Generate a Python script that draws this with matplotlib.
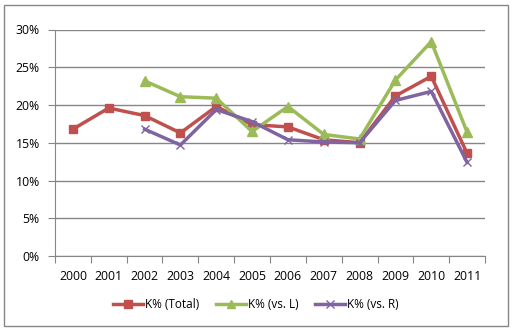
import numpy as np
import matplotlib.pyplot as plt
from matplotlib.patches import Rectangle
from matplotlib.ticker import FuncFormatter

years = ["2000", "2001", "2002", "2003", "2004", "2005", "2006",
         "2007", "2008", "2009", "2010", "2011"]
k_total = [16.8, 19.6, 18.6, 16.3, 19.8, 17.4, 17.1, 15.4, 15.0, 21.2, 23.8, 13.6]
k_vs_l = [np.nan, np.nan, 23.2, 21.1, 20.9, 16.5, 19.8, 16.1, 15.5, 23.3, 28.4, 16.4]
k_vs_r = [np.nan, np.nan, 16.8, 14.7, 19.4, 17.8, 15.4, 15.1, 15.0, 20.6, 21.8, 12.4]

plt.rcParams["font.family"] = ["Open Sans", "DejaVu Sans"]

W, H = 512, 331
fig = plt.figure(figsize=(W / 100, H / 100), dpi=100)
ax = fig.add_axes([55 / W, 1 - 256 / H, 430 / W, 226.5 / H])

x = np.arange(len(years))
ax.plot(x, k_total, color="#C0504D", lw=2.5, marker="s", ms=6, label="K% (Total)")
ax.plot(x, k_vs_l, color="#9BBB59", lw=2.5, marker="^", ms=7, label="K% (vs. L)")
ax.plot(x, k_vs_r, color="#8064A2", lw=2.5, marker="x", ms=6, mew=1, label="K% (vs. R)")

ax.set_xlim(-0.5, len(years) - 0.5)
ax.set_ylim(0, 30)
ax.set_yticks(np.arange(0, 31, 5))
ax.yaxis.set_major_formatter(FuncFormatter(lambda v, p: f"{v:.0f}%"))
ax.grid(axis="y", color="#868686", lw=1)
ax.set_axisbelow(True)

# category ticks sit between the years
ax.set_xticks(np.arange(-0.5, len(years), 1))
ax.set_xticklabels([])
ax.set_xticks(x, minor=True)
ax.set_xticklabels(years, minor=True)
ax.tick_params(axis="x", which="minor", length=0, pad=10)
ax.tick_params(axis="x", which="major", length=5, color="#868686", direction="out")
ax.tick_params(axis="y", length=5, color="#868686", pad=6)
ax.tick_params(which="both", labelsize=8.8, labelcolor="#000000")

for side in ["top", "right"]:
    ax.spines[side].set_visible(False)
for side in ["left", "bottom"]:
    ax.spines[side].set_color("#868686")

fig.legend(loc="center", bbox_to_anchor=(0.5, 1 - 305 / H), ncol=3, frameon=False,
           fontsize=8.5, handlelength=2.5, columnspacing=1.4, handletextpad=0.2,
           markerscale=0.9)

fig.patches.append(Rectangle((4 / W, 5 / H), 504 / W, 321 / H, transform=fig.transFigure,
                             fill=False, edgecolor="#868686", lw=1))

fig.savefig("out.png", dpi=100)
